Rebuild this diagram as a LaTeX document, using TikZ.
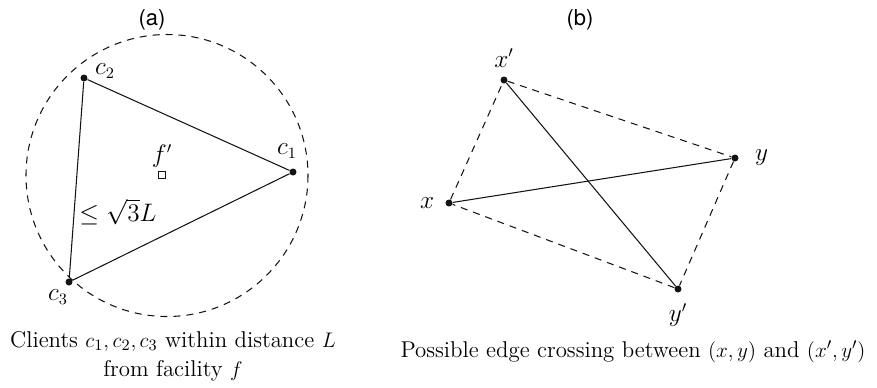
\documentclass[tikz,border=0pt]{standalone}
\usepackage{amsmath,amssymb}
\usepackage{fontspec}
\newfontfamily\panelfont{TeX Gyre Heros}
\usetikzlibrary{positioning}
\definecolor{ink}{RGB}{20,20,20}
\tikzset{
  dot/.style={circle,fill=ink,inner sep=0pt,minimum size=1.4mm},
  edg/.style={ink,line width=0.6pt},
  alt/.style={ink,line width=0.6pt,dash pattern=on 4pt off 3.4pt},
  lbl/.style={inner sep=1pt,font=\fontsize{13.5}{16}\selectfont},
  captxt/.style={font=\fontsize{13}{16.5}\selectfont,align=center},
  tag/.style={font=\fontsize{12.5}{15}\selectfont\panelfont},
}

\begin{document}
\begin{tikzpicture}[x=0.02cm,y=-0.02cm]
\useasboundingbox (0,0) rectangle (877,387);
% (a) clients around a facility
\node[tag] (ta) at (152,20) {(a)};
\coordinate (f) at (167,175.5);
\draw[alt] (f) circle[radius=141];
\node[dot] (c1) at (293,172) {};
\node[dot] (c2) at (84,78) {};
\node[dot] (c3) at (69,282) {};
\draw[edg] (c1) -- (c2) -- (c3) -- (c1);
\node[lbl] at (287,151) {$c_1$};
\node[lbl] at (105,71) {$c_2$};
\node[lbl] at (58,297) {$c_3$};
\node[draw=ink,line width=0.5pt,inner sep=0pt,minimum size=1.3mm] (fp) at (162,175) {};
\node[lbl,above=1pt of fp] {$f'$};
\node[lbl] at (118,212) {$\leq \sqrt{3}L$};
\node[captxt] (capa) at (173,356) {Clients $c_1,c_2,c_3$ within distance $L$\\ from facility $f$};
% (b) crossing edges
\node[tag] (tb) at (580,20) {(b)};
\node[dot] (x) at (449,203) {};
\node[dot] (y) at (735,158) {};
\node[dot] (xp) at (504,80) {};
\node[dot] (yp) at (678,289) {};
\draw[edg] (x) -- (y);
\draw[edg] (xp) -- (yp);
\draw[alt] (x) -- (xp) -- (y) -- (yp) -- (x);
\node[lbl,left=5pt of x] {$x$};
\node[lbl,right=8pt of y] {$y$};
\node[lbl,above=4pt of xp] {$x'$};
\node[lbl,below=5pt of yp] {$y'$};
\node[captxt] (capb) at (633,352) {Possible edge crossing between $(x,y)$ and $(x',y')$};
\end{tikzpicture}
\end{document}
